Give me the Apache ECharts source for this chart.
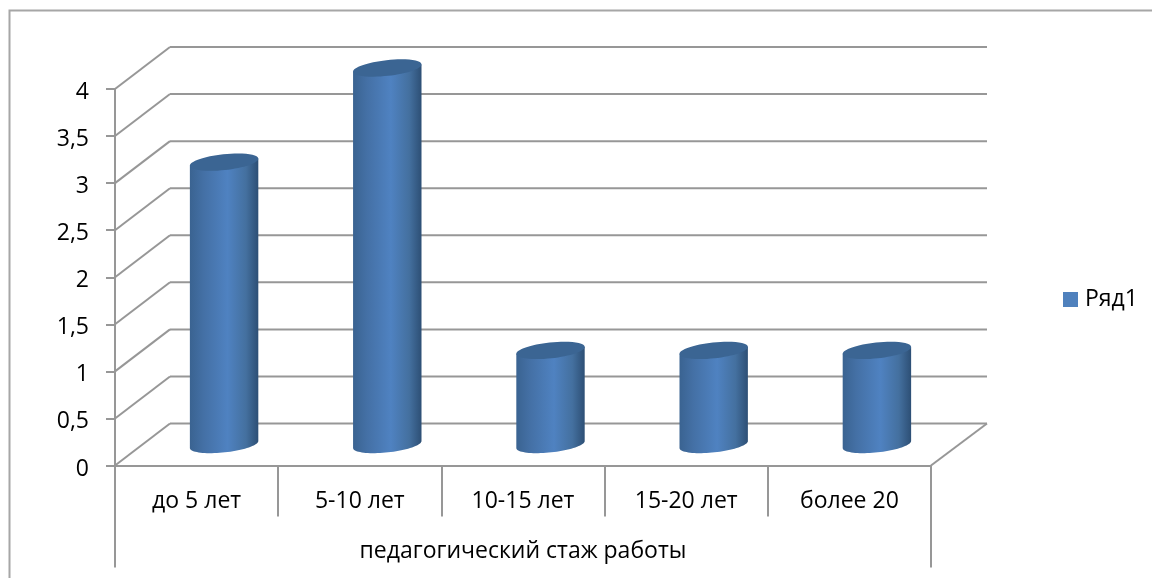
<!DOCTYPE html>
<html>
<head>
<meta charset="utf-8">
<style>
  html, body { margin: 0; padding: 0; background: #fff; }
  #chart { width: 1152px; height: 578px; }
</style>
</head>
<body>
<div id="chart"></div>
<script src="https://cdn.jsdelivr.net/npm/echarts@6/dist/echarts.min.js"></script>
<script>
const categories = ['до 5 лет', '5-10 лет', '10-15 лет', '15-20 лет', 'более 20']
const values = [3, 4, 1, 1, 1]
const yTicks = [0, 0.5, 1, 1.5, 2, 2.5, 3, 3.5, 4]
const seriesName = 'Ряд1'
const axisTitle = 'педагогический стаж работы'

const fontFamily = '"Open Sans", sans-serif'
const lineColor = '#979797'
// смещение задней стенки
const depthX = 56
const depthY = 42

const chart = echarts.init(document.getElementById('chart'), null, { renderer: 'canvas' })

function renderWall(params, api) {
  const grid = params.coordSys
  const y = api.coord([0, api.value(0)])[1]
  const left = grid.x
  const right = grid.x + grid.width
  const style = { stroke: lineColor, lineWidth: 2, fill: null }
  const children = [
    { type: 'line', shape: { x1: left, y1: y, x2: left + depthX - 1, y2: y - depthY }, style },
    { type: 'line', shape: { x1: left + depthX - 1, y1: y - depthY, x2: right + depthX, y2: y - depthY }, style }
  ]
  if (params.dataIndex === 0) {
    children.push({ type: 'line', shape: { x1: right, y1: y, x2: right + depthX, y2: y - depthY }, style })
  }
  return { type: 'group', children }
}

function renderCylinder(params, api) {
  const idx = api.value(0)
  const top = api.coord([idx, api.value(1)])
  const base = api.coord([idx, 0])
  const cx = top[0] + depthX / 2 - 0.5
  const topY = top[1] - depthY / 2
  const baseY = base[1] - depthY / 2
  const rx = 34.4
  const ry = 7.9
  const tilt = 6.2 * Math.PI / 180
  const ext = Math.sqrt(rx * rx * Math.cos(tilt) ** 2 + ry * ry * Math.sin(tilt) ** 2)
  const dy = (rx * rx - ry * ry) * Math.sin(tilt) * Math.cos(tilt) / ext

  // контур тела: от левой касательной вниз, по нижней дуге, вверх
  const pts = [[cx - ext, topY + dy]]
  for (let i = 0; i <= 40; i++) {
    const t = Math.PI - Math.PI * i / 40
    const ex = rx * Math.cos(t)
    const ey = ry * Math.sin(t)
    const px = ex * Math.cos(tilt) + ey * Math.sin(tilt)
    const py = -ex * Math.sin(tilt) + ey * Math.cos(tilt)
    if (Math.abs(px) <= ext) pts.push([cx + px, baseY + py])
  }
  pts.push([cx + ext, topY - dy])

  return {
    type: 'group',
    children: [
      {
        type: 'polygon',
        shape: { points: pts },
        style: {
          fill: new echarts.graphic.LinearGradient(0, 0, 1, 0, [
            { offset: 0, color: '#3a6391' },
            { offset: 0.2, color: '#4470a5' },
            { offset: 0.55, color: '#4f82c1' },
            { offset: 0.82, color: '#44709f' },
            { offset: 1, color: '#2d4f75' }
          ])
        }
      },
      {
        type: 'ellipse',
        shape: { cx: 0, cy: 0, rx, ry },
        x: cx,
        y: topY,
        rotation: tilt,
        style: { fill: '#3b6593' }
      }
    ]
  }
}

const option = {
  animation: false,
  backgroundColor: '#fff',
  textStyle: { fontFamily },
  grid: { left: 115, right: 221, top: 89, bottom: 112.5 },
  legend: {
    data: [seriesName],
    left: 1058,
    top: 283,
    icon: 'rect',
    itemWidth: 15,
    itemHeight: 15,
    itemGap: 6,
    textStyle: { fontSize: 23, color: '#000', fontFamily, padding: [0, 0, 0, 2] }
  },
  xAxis: [
    {
      type: 'category',
      data: categories,
      position: 'bottom',
      axisLine: { lineStyle: { color: lineColor, width: 2 } },
      axisTick: { show: true, length: 51, lineStyle: { color: lineColor, width: 2 } },
      axisLabel: { interval: 0, fontSize: 23, color: '#000', margin: 24, fontFamily }
    },
    {
      type: 'category',
      data: [axisTitle],
      position: 'bottom',
      axisLine: { show: false },
      axisTick: { show: true, length: 102, lineStyle: { color: lineColor, width: 2 } },
      axisLabel: { interval: 0, fontSize: 23, color: '#000', margin: 74, fontFamily }
    }
  ],
  yAxis: {
    type: 'value',
    min: 0,
    max: 4,
    interval: 0.5,
    axisLine: { show: true, lineStyle: { color: lineColor, width: 2 } },
    axisTick: { show: true, length: 9, lineStyle: { color: lineColor, width: 2 } },
    splitLine: { show: false },
    axisLabel: {
      margin: 26,
      formatter: (v) => '{v|' + String(v).replace('.', ',') + '}',
      rich: {
        v: { fontSize: 23, color: '#000', fontFamily, padding: [7, 0, 0, 0] }
      }
    }
  },
  series: [
    {
      type: 'custom',
      name: 'wall',
      silent: true,
      clip: false,
      z: 1,
      renderItem: renderWall,
      data: yTicks.map((v) => [v]),
      encode: { y: 0 }
    },
    {
      type: 'custom',
      name: seriesName,
      clip: false,
      z: 3,
      itemStyle: { color: '#4f81bd' },
      renderItem: renderCylinder,
      data: values.map((v, i) => [i, v]),
      encode: { x: 0, y: 1 }
    }
  ],
  graphic: [
    {
      type: 'polyline',
      silent: true,
      shape: { points: [[9.5, 578], [9.5, 10.5], [1152, 10.5]] },
      style: { stroke: '#a6a6a6', lineWidth: 2, fill: null }
    }
  ]
}

chart.setOption(option)
</script>
</body>
</html>
